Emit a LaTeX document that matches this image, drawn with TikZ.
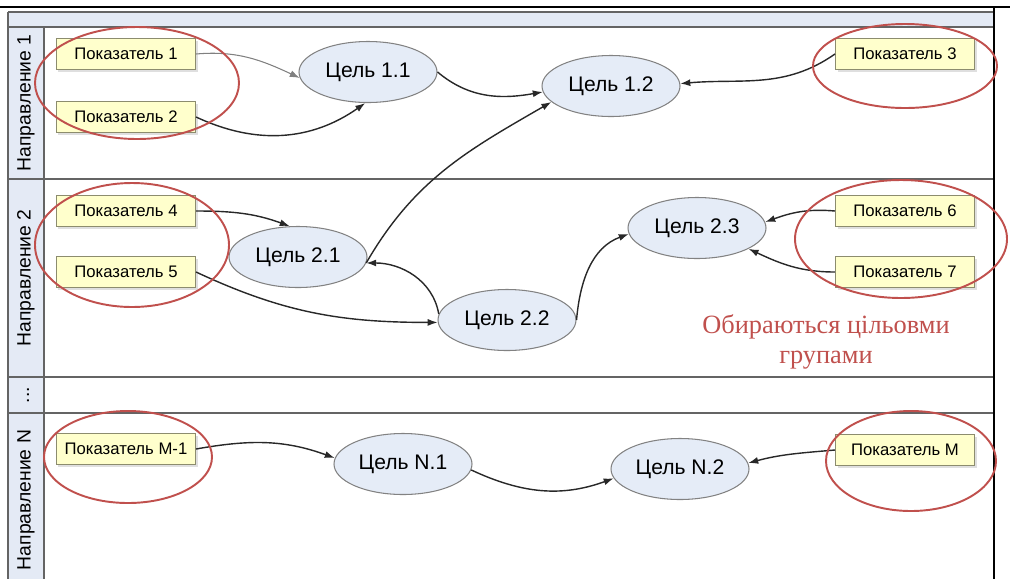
\documentclass[tikz,border=0pt]{standalone}
\usepackage{fontspec}
\setmainfont{Liberation Sans}
\newfontfamily\notefont{Liberation Serif}
\usepackage{tikz}
\usetikzlibrary{arrows.meta,shapes.geometric,shadows}
\definecolor{bandfill}{RGB}{228,234,245}
\definecolor{goalfill}{RGB}{229,236,247}
\definecolor{goalline}{RGB}{130,130,130}
\definecolor{boxfill}{RGB}{255,255,204}
\definecolor{boxline}{RGB}{140,140,110}
\definecolor{markred}{RGB}{192,80,77}
\definecolor{laneline}{RGB}{100,100,100}
\definecolor{arrowcol}{RGB}{40,40,40}

\begin{document}
\begin{tikzpicture}[x=0.2mm,y=0.2mm]
            \tikzstyle{pokaz}=[rectangle, draw=boxline, fill=boxfill, line width=0.6pt, minimum width=27.8mm, minimum height=6.2mm, inner sep=1pt, font=\fontsize{9.5}{11}\selectfont, drop shadow={shadow xshift=0.4mm, shadow yshift=-0.4mm, opacity=0.25}]
            \tikzstyle{tsil}=[ellipse, draw=goalline, fill=goalfill, line width=0.6pt, minimum width=27.6mm, minimum height=12.2mm, inner sep=0pt, font=\fontsize{12}{14}\selectfont]
            \tikzstyle{lanename}=[rotate=90, inner sep=0pt, font=\fontsize{11}{13}\selectfont]
            \tikzstyle{link}=[-{Latex[length=2mm,width=1.4mm]}, color=arrowcol, line width=0.8pt]
            \tikzstyle{vybor}=[draw=markred, line width=1.1pt]
            \useasboundingbox (0,0) rectangle (1010,-579);
            % swimlanes
            \fill[bandfill] (8,-12) rectangle (994,-27);
            \fill[bandfill] (8,-27) rectangle (44,-579);
            \draw[laneline, line width=0.7pt] (8,-12) -- (994,-12) (8,-27) -- (994,-27) (8,-179) -- (994,-179) (8,-377) -- (994,-377) (8,-413) -- (994,-413) (44,-27) -- (44,-579) (8,-12) -- (8,-579);
            \draw[black, line width=0.8pt] (0,-7) -- (1010,-7) (994,-7) -- (994,-579);
            \node[lanename] (n1) at (26,-103) {Направление 1};
            \node[lanename] (n2) at (26,-278) {Направление 2};
            \node[lanename] (ndots) at (28,-395) {...};
            \node[lanename] (nn) at (26,-500) {Направление N};
            % indicators
            \node[pokaz] (p1) at (126,-54) {Показатель 1};
            \node[pokaz] (p2) at (126,-117) {Показатель 2};
            \node[pokaz] (p3) at (905,-54) {Показатель 3};
            \node[pokaz] (p4) at (126,-211) {Показатель 4};
            \node[pokaz] (p5) at (126,-272) {Показатель 5};
            \node[pokaz] (p6) at (905,-211) {Показатель 6};
            \node[pokaz] (p7) at (905,-272) {Показатель 7};
            \node[pokaz] (pm1) at (126,-449) {Показатель M-1};
            \node[pokaz] (pm) at (905,-450) {Показатель M};
            % goals
            \node[tsil] (g11) at (368,-72) {Цель 1.1};
            \node[tsil] (g12) at (611,-86) {Цель 1.2};
            \node[tsil] (g21) at (298,-257) {Цель 2.1};
            \node[tsil] (g22) at (507,-320) {Цель 2.2};
            \node[tsil] (g23) at (697,-228) {Цель 2.3};
            \node[tsil] (gn1) at (403,-464) {Цель N.1};
            \node[tsil] (gn2) at (680,-469) {Цель N.2};
            % links
            \path [link, color=gray, line width=0.6pt] (p1.east) edge[out=5,in=155] (g11.185);
            \path [link] (p2.east) edge[out=-25,in=215] (g11.265);
            \path [link] (g11.east) edge[out=-40,in=190] (g12.185);
            \path [link] (p3.west) edge[out=215,in=5] (g12.2);
            \path [link] (g21.355) edge[out=60,in=210] (g12.195);
            \path [link] (p4.east) edge[out=0,in=160] (g21.105);
            \path [link] (p5.east) edge[out=-25,in=180] (g22.182);
            \path [link] (g22.175) edge[out=100,in=0] (g21.355);
            \path [link] (g22.east) edge[out=85,in=200] (g23.185);
            \path [link] (p6.west) edge[out=175,in=20] (g23.5);
            \path [link] (p7.west) edge[out=180,in=-25] (g23.338);
            \path [link] (pm1.east) edge[out=10,in=160] (gn1.175);
            \path [link] (gn1.355) edge[out=-25,in=200] (gn2.188);
            \path [link] (pm.west) edge[out=185,in=15] (gn2.5);
            % selection marks
            \draw[vybor] (137,-83) ellipse [x radius=20.4mm, y radius=11.2mm];
            \draw[vybor] (905,-66) ellipse [x radius=18.4mm, y radius=8.4mm];
            \draw[vybor] (132,-245) ellipse [x radius=19.4mm, y radius=12.4mm];
            \draw[vybor] (901,-239) ellipse [x radius=21.2mm, y radius=11.8mm];
            \draw[vybor] (128,-457) ellipse [x radius=16.8mm, y radius=9.2mm];
            \draw[vybor] (911,-461) ellipse [x radius=17mm, y radius=10mm];
            \node[text=markred, align=center, font=\notefont\fontsize{15}{17}\selectfont] (note) at (826,-342) {Обираються цільовми\\групами};
\end{tikzpicture}
\end{document}
